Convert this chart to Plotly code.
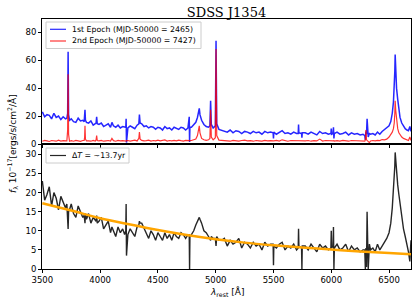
import plotly.graph_objects as go
from plotly.subplots import make_subplots

# ---------------- data ----------------
wavelength = [
    3500, 3520, 3540, 3560, 3580, 3600, 3620, 3640, 3660, 3680, 3700,
    3712, 3719, 3723, 3727, 3735,
    3750, 3770, 3790, 3810, 3830, 3850,
    3862, 3866, 3869, 3873, 3882,
    3900, 3920, 3940, 3958,
    3965, 3970, 3975,
    3990, 4010, 4030, 4050, 4070, 4090, 4102, 4115, 4135, 4155, 4175, 4195, 4212,
    4222, 4225, 4228,
    4240, 4260, 4280, 4300, 4320,
    4335, 4340, 4346,
    4360, 4380, 4400, 4420, 4440, 4460, 4480, 4500, 4520, 4540, 4560, 4580, 4600, 4620, 4640, 4660, 4680, 4700, 4720, 4740, 4760,
    4771, 4774, 4777,
    4790, 4810, 4828, 4842, 4852, 4858, 4864, 4878, 4898, 4918, 4938,
    4950, 4956, 4962, 4978,
    4997, 5003, 5009, 5028,
    5050, 5075, 5100, 5125, 5150, 5175, 5200, 5225, 5250, 5275, 5300, 5325, 5350, 5375, 5400, 5425, 5450, 5475,
    5497, 5500, 5503,
    5525, 5550, 5575, 5600, 5625, 5650, 5675, 5700,
    5714, 5717, 5720, 5743, 5746, 5749,
    5775, 5800, 5825, 5850, 5875, 5900, 5925, 5950, 5975,
    5997, 6000, 6003, 6015, 6019, 6023, 6027,
    6050, 6075, 6100, 6125, 6150, 6175, 6200, 6225, 6250, 6275,
    6290, 6295, 6300, 6305, 6310, 6315, 6320, 6330, 6340,
    6360, 6380, 6400, 6420, 6440,
    6460, 6480, 6500, 6515, 6528, 6538, 6545, 6550, 6553, 6558, 6565, 6575, 6585, 6595, 6610, 6625, 6640, 6655, 6668, 6680, 6690,
]

flux_epoch1 = [
    23.0, 19.5, 21.0, 20.5, 18.0, 22.0, 19.0, 20.0, 17.5, 19.5, 18.0,
    18.5, 22.0, 66.0, 21.0, 17.0,
    18.0, 16.0, 15.5, 18.5, 16.5, 17.0,
    16.0, 19.0, 24.5, 17.0, 15.5,
    15.0, 16.5, 13.5, 15.0,
    15.0, 19.5, 14.5,
    14.0, 15.0, 12.5, 13.5, 14.5, 12.0, 15.5, 13.0, 12.0, 13.5, 11.5, 12.5, 12.0,
    12.0, 18.0, 1.0,
    11.5, 13.0, 12.0, 11.0, 13.5,
    14.5, 21.0, 15.0,
    14.5, 12.5, 13.0, 11.5, 12.5, 12.0, 10.5, 12.0, 11.5, 10.0, 12.5, 11.0, 11.5, 10.0, 12.0, 11.0, 10.5, 12.0, 11.5, 10.0, 11.5,
    19.5, 1.5, 12.0,
    12.0, 13.5, 15.5, 19.0, 23.0, 25.5, 21.0, 17.0, 14.0, 12.5, 12.0,
    13.0, 31.0, 14.0, 11.5,
    13.0, 74.0, 14.5, 10.5,
    10.0, 9.0, 8.5, 10.0, 8.0, 9.5, 9.0, 7.5, 9.0, 8.5, 7.5, 9.0, 8.0, 8.5, 7.0, 9.0, 8.0, 8.5,
    8.0, 4.0, 8.5,
    7.0, 8.5, 9.5, 7.5, 8.0, 7.0, 8.5, 7.5,
    7.5, 14.0, 8.0, 7.5, 4.5, 8.0,
    8.0, 7.0, 8.5, 7.5, 6.5, 9.0, 7.5, 8.0, 7.0,
    7.5, 11.0, 7.0, 7.5, 12.0, 4.0, 7.5,
    8.5, 7.0, 7.5, 8.5, 6.5, 8.0, 7.0, 7.5, 6.5, 7.0,
    6.0, 3.0, 9.0, 7.0, 18.0, 8.0, 5.0, 7.5, 7.0,
    7.5, 6.5, 8.5, 7.0, 9.0,
    10.5, 12.0, 13.0, 16.0, 22.0, 30.0, 39.0, 52.0, 64.0, 52.0, 40.0, 32.0, 24.0, 19.0, 15.0, 12.5, 11.0, 10.0, 9.5, 12.5, 9.0,
]

flux_epoch2 = [
    2.0, 2.6, 2.2, 1.8, 2.5, 2.3, 2.0, 2.7, 2.1, 2.4, 2.2,
    2.2, 10.0, 50.0, 7.0, 2.0,
    2.4, 2.0, 2.6, 2.2, 1.9, 2.5,
    2.5, 5.0, 13.0, 3.5, 2.2,
    2.3, 2.0, 2.6, 2.1,
    3.0, 6.0, 2.5,
    2.2, 2.6, 2.0, 2.3, 2.5, 2.1, 4.0, 2.4, 2.0, 2.6, 2.2, 2.4, 2.0,
    2.2, 2.0, 2.4,
    2.5, 2.1, 2.3, 2.7, 2.2,
    4.0, 8.5, 3.5,
    2.6, 2.2, 2.4, 2.8, 2.1, 2.5, 2.3, 2.7, 2.2, 2.4, 2.9, 2.1, 2.5, 2.3, 2.6, 2.2, 2.8, 2.4, 2.1, 2.6, 2.4,
    2.3, 2.0, 2.4,
    2.5, 2.8, 3.5, 6.0, 10.0, 13.0, 8.0, 4.0, 3.0, 2.6, 3.0,
    4.0, 24.5, 5.0, 3.0,
    4.5, 68.0, 6.0, 2.8,
    2.7, 2.2, 2.4, 2.0, 2.6, 2.3, 2.1, 2.5, 2.8, 2.2, 2.4, 2.0, 2.5, 2.3, 2.1, 2.6, 2.2, 2.4,
    2.2, 2.4, 2.3,
    2.6, 2.1, 3.0, 2.3, 2.0, 2.5, 2.4, 2.1,
    2.2, 2.5, 2.0, 2.4, 2.1, 2.3,
    2.3, 2.5, 2.0, 2.4, 2.2, 3.5, 2.1, 2.5, 2.3,
    2.1, 2.2, 2.4, 2.3, 2.2, 2.5, 2.1,
    2.4, 2.1, 2.6, 2.2, 2.0, 2.5, 2.3, 2.1, 2.4, 2.0,
    2.0, 3.0, 10.0, 3.0, 2.5, 2.0, 2.3, 1.0, 2.2,
    2.5, 2.2, 2.6, 2.4, 3.2,
    3.0, 3.5, 5.0, 6.5, 8.5, 11.0, 15.0, 22.0, 31.0, 24.0, 16.0, 11.0, 8.0, 6.5, 5.0, 4.0, 3.5, 3.0, 2.5, 5.0, 2.5,
]

flux_difference = [
    23.0, 18.0, 19.5, 21.5, 16.5, 20.0, 18.5, 15.5, 19.0, 17.5, 16.0,
    17.0, 13.5, 10.5, 15.0, 15.5,
    17.0, 14.5, 13.5, 16.5, 15.0, 13.5,
    14.0, 13.0, 12.0, 14.5, 13.0,
    14.5, 12.0, 13.5, 12.5,
    12.5, 14.0, 12.0,
    12.5, 13.5, 10.5, 11.5, 12.5, 9.5, 11.0, 10.0, 8.5, 11.0, 9.5, 10.5, 9.0,
    10.0, 17.0, 3.5,
    9.0, 10.5, 9.5, 8.5, 11.0,
    11.5, 12.5, 12.0,
    12.0, 10.5, 9.5, 8.0, 10.0, 9.0, 7.5, 9.5, 8.5, 7.5, 9.5, 8.0, 9.0, 7.5, 9.5, 8.5, 8.0, 9.5, 9.0, 8.0, 9.0,
    9.0, 0.0, 8.5,
    9.0, 10.0, 11.5, 12.5, 13.0, 13.5, 13.0, 12.0, 10.0, 9.5, 8.5,
    8.0, 7.5, 8.5, 8.0,
    8.0, 6.0, 8.5, 7.5,
    7.5, 8.0, 6.0, 7.5, 6.5, 7.0, 8.0, 5.5, 7.0, 6.5, 5.5, 7.0, 6.0, 6.5, 5.0, 7.0, 6.0, 6.5,
    6.5, 1.0, 6.0,
    5.5, 6.5, 7.0, 5.0, 6.0, 5.5, 6.5, 5.0,
    5.5, 10.5, 6.0, 5.5, 0.0, 6.0,
    6.0, 5.0, 6.5, 5.5, 4.5, 6.5, 5.5, 6.0, 5.0,
    5.5, 10.0, 5.5, 6.0, 11.0, 0.0, 5.5,
    6.5, 5.0, 5.5, 6.5, 4.5, 6.0, 5.0, 5.5, 4.5, 5.0,
    5.0, 0.0, 5.5, 0.5, 15.0, 6.0, 0.0, 6.5, 5.0,
    5.5, 4.5, 6.5, 5.0, 6.0,
    7.0, 8.0, 9.5, 12.0, 16.0, 20.0, 24.0, 27.0, 30.5, 28.0, 25.0, 22.0, 19.5, 17.0, 13.5, 10.5, 8.5, 6.5, 4.5, 2.0, 7.5,
]

continuum_wavelength = [3500, 3750, 4000, 4250, 4500, 4750, 5000, 5250, 5500, 5750, 6000, 6250, 6500, 6690]
continuum_flux = [17.2, 15.3, 13.3, 11.7, 10.2, 8.9, 7.8, 6.9, 6.2, 5.6, 5.1, 4.6, 4.2, 3.85]

epoch1_label = "1st Epoch (MJD-50000 = 2465)"
epoch2_label = "2nd Epoch (MJD-50000 = 7427)"
diff_label = "Δ<i>T</i> = ∼13.7yr"

top_y_ticks = [0, 20, 40, 60, 80]
bottom_y_ticks = [0, 5, 10, 15, 20, 25, 30]
x_ticks = [3500, 4000, 4500, 5000, 5500, 6000, 6500]

assert len(wavelength) == len(flux_epoch1) == len(flux_epoch2) == len(flux_difference)

# ---------------- styles ----------------
BLUE = "rgba(0,0,255,0.85)"
RED = "rgba(255,0,0,0.8)"
BLACK = "rgba(0,0,0,0.85)"
ORANGE = "#ffa500"

W, H = 415, 301
ML, MR, MT, MB = 42, 4, 19, 32
PW, PH = W - ML - MR, H - MT - MB


def px(x):
    return (x - ML) / PW


def py(y):
    return (H - MB - y) / PH


fig = make_subplots(rows=2, cols=1, shared_xaxes=True, vertical_spacing=0)

fig.add_trace(go.Scatter(x=wavelength, y=flux_epoch1, mode="lines", name=epoch1_label,
                         line=dict(color=BLUE, width=1.5), showlegend=False),
              row=1, col=1)
fig.add_trace(go.Scatter(x=wavelength, y=flux_epoch2, mode="lines", name=epoch2_label,
                         line=dict(color=RED, width=1.2), showlegend=False),
              row=1, col=1)
fig.add_trace(go.Scatter(x=wavelength, y=flux_difference, mode="lines", name="difference",
                         line=dict(color=BLACK, width=1.4), showlegend=False),
              row=2, col=1)
fig.add_trace(go.Scatter(x=continuum_wavelength, y=continuum_flux, mode="lines",
                         line=dict(color=ORANGE, width=2.5, shape="spline"),
                         showlegend=False),
              row=2, col=1)

tick_font = dict(family="DejaVu Sans", size=8.5, color="black")
axis_common = dict(showline=True, linecolor="black", linewidth=1, mirror=True,
                   ticks="outside", ticklen=3, tickcolor="black", tickwidth=1,
                   showgrid=False, zeroline=False, tickfont=tick_font)

fig.update_xaxes(range=[3497, 6690], tickvals=x_ticks, **axis_common)
fig.update_xaxes(showticklabels=False, row=1, col=1)
fig.update_yaxes(range=[0, 89.5], tickvals=top_y_ticks, row=1, col=1, **axis_common)
fig.update_yaxes(range=[0, 32.7], tickvals=bottom_y_ticks, row=2, col=1, **axis_common)

# legend boxes (drawn like matplotlib legends)
legend_font = dict(family="DejaVu Sans", size=7.8, color="black")
shapes = [
    dict(type="rect", xref="paper", yref="paper", x0=px(46), x1=px(201), y0=py(48.5), y1=py(22),
         line=dict(color="#cccccc", width=1), fillcolor="rgba(255,255,255,0.85)", layer="above"),
    dict(type="line", xref="paper", yref="paper", x0=px(50), x1=px(66), y0=py(29.3), y1=py(29.3),
         line=dict(color=BLUE, width=1.2), layer="above"),
    dict(type="line", xref="paper", yref="paper", x0=px(50), x1=px(66), y0=py(41), y1=py(41),
         line=dict(color=RED, width=1.2), layer="above"),
    dict(type="rect", xref="paper", yref="paper", x0=px(46), x1=px(129), y0=py(163), y1=py(148),
         line=dict(color="#cccccc", width=1), fillcolor="rgba(255,255,255,0.85)", layer="above"),
    dict(type="line", xref="paper", yref="paper", x0=px(50), x1=px(66), y0=py(155.5), y1=py(155.5),
         line=dict(color=BLACK, width=1.2), layer="above"),
]

annotations = [
    dict(text=epoch1_label, xref="paper", yref="paper", x=px(70), y=py(29.3),
         xanchor="left", yanchor="middle", showarrow=False, font=legend_font),
    dict(text=epoch2_label, xref="paper", yref="paper", x=px(70), y=py(41),
         xanchor="left", yanchor="middle", showarrow=False, font=legend_font),
    dict(text=diff_label, xref="paper", yref="paper", x=px(70), y=py(155.5),
         xanchor="left", yanchor="middle", showarrow=False, font=legend_font),
    dict(text="<i>λ</i><sub>rest</sub> [Å]", xref="paper", yref="paper",
         x=0.5, y=py(291.5), xanchor="center", yanchor="middle",
         showarrow=False, font=dict(family="DejaVu Sans", size=9, color="black")),
    dict(text="<i>f</i><sub>λ</sub> 10<sup>−17</sup>[ergs/s/cm<sup>2</sup>/Å]",
         xref="paper", yref="paper", x=px(12), y=0.5,
         xanchor="center", yanchor="middle", textangle=-90,
         showarrow=False, font=dict(family="DejaVu Sans", size=9, color="black")),
]

fig.update_layout(
    width=W, height=H,
    margin=dict(l=ML, r=MR, t=MT, b=MB, pad=0),
    paper_bgcolor="white", plot_bgcolor="white",
    font=dict(family="DejaVu Sans", size=8.5, color="black"),
    showlegend=False,
    title=dict(text="SDSS J1354", x=(ML + PW / 2) / W, xanchor="center",
               y=1 - 12 / H, yanchor="middle",
               font=dict(family="DejaVu Serif", size=13, color="black")),
    shapes=shapes,
    annotations=annotations,
)

fig.write_html("out.html",
               config={"displayModeBar": False},
               post_script="document.body.style.margin='0';document.body.style.padding='0';")
